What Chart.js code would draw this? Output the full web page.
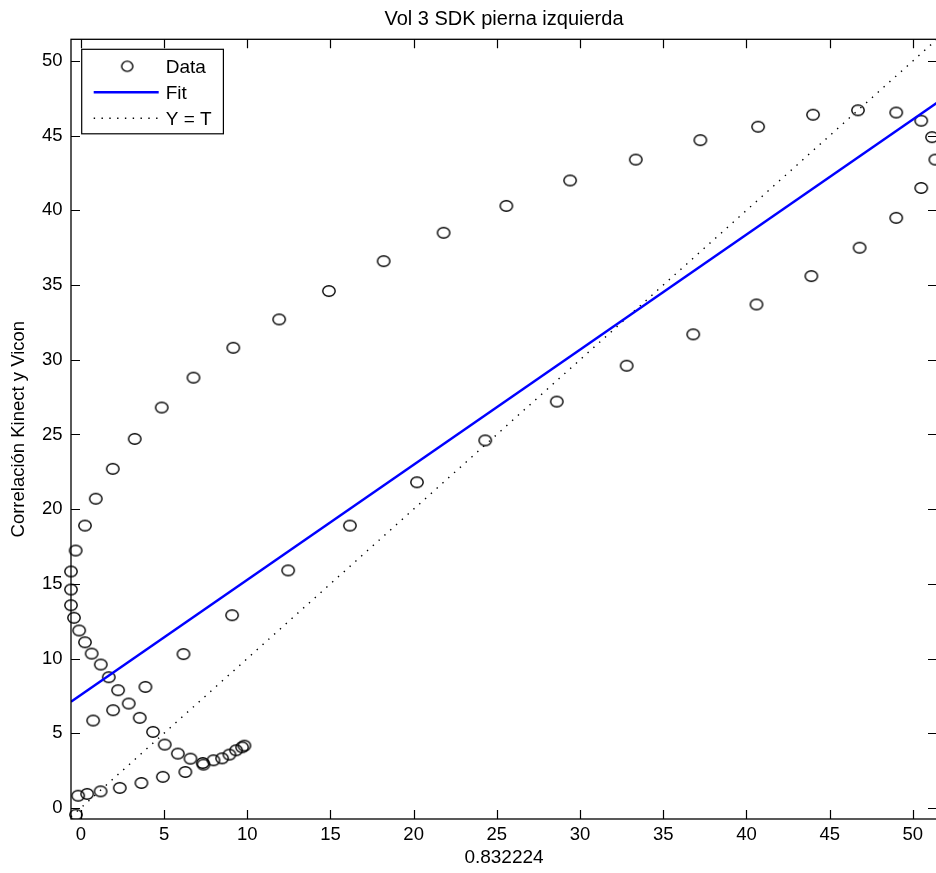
<!DOCTYPE html>
<html><head><meta charset="utf-8">
<script src="https://cdn.jsdelivr.net/npm/chart.js@4/dist/chart.umd.min.js"></script>
<style>html,body{margin:0;padding:0;overflow:hidden;background:#fff}</style>
</head><body>
<canvas id="c" width="944" height="873" style="display:block;width:944px;height:873px"></canvas>
<script>
const titleText = "Vol 3 SDK pierna izquierda";
const xTitle = "0.832224";
const yTitle = "Correlación Kinect y Vicon";
const seriesNames = ["Data", "Fit", "Y = T"];

const dataX = [
  -0.59,-0.59,-0.31,0.25,0.9,1.92,3.24,4.86,6.77,9.16,11.92,14.91,18.2,21.8,25.57,29.4,33.35,37.23,40.7,44.0,46.7,49.0,50.5,51.15,
  51.35,50.5,49.0,46.8,43.9,40.6,36.8,32.8,28.6,24.3,20.2,16.17,12.46,9.09,6.17,3.88,1.94,0.74,
  -0.59,-0.41,-0.1,0.25,0.65,1.2,1.68,2.24,2.88,3.54,4.34,5.04,5.83,6.59,7.33,7.97,8.49,8.93,9.33,9.69,9.83,
  -0.29,-0.16,0.38,1.19,2.34,3.64,4.93,6.28,7.37
];
const dataY = [
  14.62,15.83,17.23,18.9,20.7,22.7,24.7,26.8,28.8,30.8,32.7,34.6,36.6,38.5,40.3,42.0,43.4,44.7,45.6,46.4,46.7,46.55,46.0,44.9,
  43.4,41.5,39.5,37.5,35.6,33.7,31.7,29.6,27.2,24.6,21.8,18.9,15.9,12.9,10.3,8.1,6.54,5.85,
  13.57,12.73,11.88,11.09,10.33,9.6,8.75,7.88,6.99,6.03,5.09,4.24,3.64,3.3,3.01,3.19,3.32,3.57,3.86,4.06,4.17,
  -0.45,0.82,0.94,1.11,1.34,1.67,2.08,2.41,2.9
];
const fitX = [-0.59, 51.45];
const fitY = [7.11, 47.2];
const identX = [-0.59, 51.45];
const identY = [-0.59, 51.45];
const xLimits = [-0.59, 51.45];
const yLimits = [-0.74, 51.45];
const tickStep = 5;

const FONT = '"Liberation Sans", Arial, Helvetica, sans-serif';

function ellipseMarker(rx, ry, lw) {
  const c = document.createElement('canvas');
  c.width = Math.ceil(2 * rx + lw + 2);
  c.height = Math.ceil(2 * ry + lw + 2);
  const g = c.getContext('2d');
  g.strokeStyle = '#000';
  g.lineWidth = lw;
  g.beginPath();
  g.ellipse(c.width / 2, c.height / 2, rx, ry, 0, 0, Math.PI * 2);
  g.stroke();
  return c;
}
const marker = ellipseMarker(6.2, 5.3, 1.4);
const legendMarker = ellipseMarker(5.6, 5.1, 1.4);

const zip = (xs, ys) => xs.map((x, i) => ({x: x, y: ys[i]}));

const framePlugin = {
  id: 'frame',
  afterDraw(chart) {
    const {ctx, chartArea: a, scales: {x, y}} = chart;
    ctx.save();
    ctx.strokeStyle = '#000';
    ctx.lineWidth = 1.3;
    ctx.strokeRect(a.left, a.top, a.right - a.left, a.bottom - a.top);
    const L = 9;
    ctx.beginPath();
    x.ticks.forEach(t => {
      const px = Math.round(x.getPixelForValue(t.value)) + 0.5;
      ctx.moveTo(px, a.bottom); ctx.lineTo(px, a.bottom - L);
      ctx.moveTo(px, a.top); ctx.lineTo(px, a.top + L);
    });
    y.ticks.forEach(t => {
      const py = Math.round(y.getPixelForValue(t.value)) + 0.5;
      ctx.moveTo(a.left, py); ctx.lineTo(a.left + L, py);
      ctx.moveTo(a.right, py); ctx.lineTo(a.right - L, py);
    });
    ctx.lineWidth = 1.2;
    ctx.stroke();

    // legend box
    const bx = a.left + 10.7, by = a.top + 10, bw = 141.7, bh = 84.5;
    ctx.fillStyle = '#fff';
    ctx.fillRect(bx, by, bw, bh);
    ctx.lineWidth = 1.2;
    ctx.strokeStyle = '#000';
    ctx.strokeRect(bx, by, bw, bh);
    const rows = [by + 17, by + 43, by + 69];
    const ds = chart.data.datasets;
    ctx.drawImage(legendMarker, bx + 45.5 - legendMarker.width / 2, rows[0] - legendMarker.height / 2);
    [[1, rows[1]], [2, rows[2]]].forEach(([i, ry]) => {
      const d = ds.find(q => q.label === seriesNames[i]);
      ctx.save();
      ctx.strokeStyle = d.borderColor;
      ctx.lineWidth = d.borderWidth;
      ctx.setLineDash(d.borderDash || []);
      ctx.beginPath();
      ctx.moveTo(bx + 12, ry); ctx.lineTo(bx + 77, ry);
      ctx.stroke();
      ctx.restore();
    });
    ctx.fillStyle = '#000';
    ctx.font = '19px ' + FONT;
    ctx.textBaseline = 'middle';
    ctx.textAlign = 'left';
    seriesNames.forEach((n, i) => ctx.fillText(n, bx + 84, rows[i] + 1));
    ctx.restore();
  }
};

new Chart(document.getElementById('c'), {
  type: 'scatter',
  data: {
    datasets: [
      {
        label: seriesNames[1],
        type: 'line',
        data: zip(fitX, fitY),
        showLine: true,
        borderColor: '#0000ff',
        borderWidth: 2.4,
        pointRadius: 0,
        fill: false
      },
      {
        label: seriesNames[2],
        type: 'line',
        data: zip(identX, identY),
        showLine: true,
        borderColor: '#000',
        borderWidth: 1.4,
        borderDash: [1.4, 6.4],
        pointRadius: 0,
        fill: false
      },
      {
        label: seriesNames[0],
        data: zip(dataX, dataY),
        showLine: false,
        pointStyle: marker,
        pointRadius: 6,
        clip: {left: 10, right: 10, top: 10, bottom: 0}
      }
    ]
  },
  options: {
    responsive: false,
    animation: false,
    devicePixelRatio: 1,
    layout: {padding: {left: 0, right: 4, top: 0, bottom: 0}},
    plugins: {
      legend: {display: false},
      tooltip: {enabled: false},
      title: {
        display: true,
        text: titleText,
        fullSize: false,
        color: '#000',
        font: {family: FONT, size: 20, weight: 'normal', lineHeight: 1.2},
        padding: {top: 7, bottom: 8.3}
      }
    },
    scales: {
      x: {
        type: 'linear',
        position: 'bottom',
        min: xLimits[0],
        max: xLimits[1],
        grid: {display: false, drawTicks: false},
        border: {display: false},
        ticks: {
          stepSize: tickStep, includeBounds: false, autoSkip: false, maxRotation: 0,
          color: '#000', padding: 5,
          font: {family: FONT, size: 18.5}
        },
        title: {
          display: true, text: xTitle, color: '#000',
          font: {family: FONT, size: 19, lineHeight: 1.2},
          padding: {top: 0, bottom: 4}
        },
        afterFit(s) { s.height = 54; }
      },
      y: {
        type: 'linear',
        position: 'left',
        min: yLimits[0],
        max: yLimits[1],
        grid: {display: false, drawTicks: false},
        border: {display: false},
        ticks: {
          stepSize: tickStep, includeBounds: false, autoSkip: false,
          color: '#000', padding: 8.5,
          font: {family: FONT, size: 18.5}
        },
        title: {
          display: true, text: yTitle, color: '#000',
          font: {family: FONT, size: 18.5, lineHeight: 1.2},
          padding: {top: 8, bottom: 0}
        },
        afterFit(s) { s.width = 71; }
      }
    }
  },
  plugins: [framePlugin]
});
</script>
</body></html>
